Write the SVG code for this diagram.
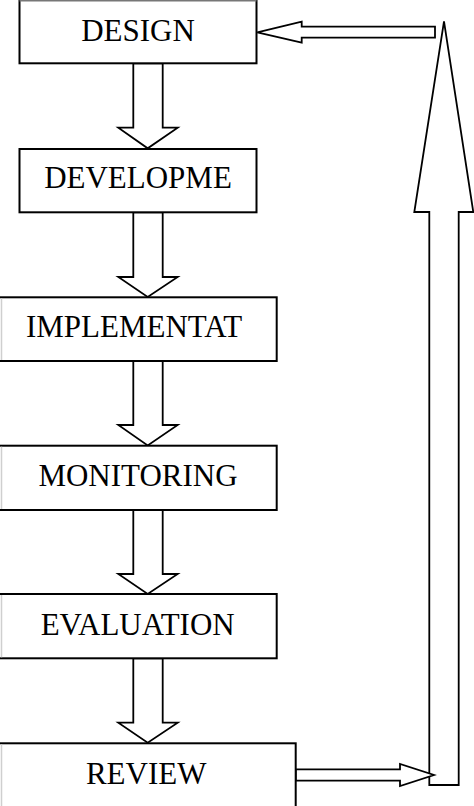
<svg xmlns="http://www.w3.org/2000/svg" width="474" height="806" viewBox="0 0 474 806">
<style>
.box{fill:#fff;stroke:#000;stroke-width:2}
.lbl{font-family:"Liberation Serif","Times New Roman",serif;font-size:31px;fill:#000;text-anchor:middle}
.arr{fill:#fff;stroke:#000;stroke-width:1.8;stroke-linejoin:miter}
.edge{stroke:#cfcfcf;stroke-width:1.5}
</style>
<rect width="474" height="806" fill="#fff"/>
<g id="connectors">
<polygon class="arr" points="133.3,63.3 133.3,127.7 118.3,127.7 147.7,148.3 177.7,127.7 162.7,127.7 162.7,63.3"/>
<polygon class="arr" points="133.3,212.3 133.3,277 118.3,277 147.7,297 177.7,277 162.7,277 162.7,212.3"/>
<polygon class="arr" points="133.3,361 133.3,425 118.3,425 147.7,445.5 177.7,425 162.7,425 162.7,361"/>
<polygon class="arr" points="133.3,510 133.3,574 118.3,574 147.7,594 177.7,574 162.7,574 162.7,510"/>
<polygon class="arr" points="133.3,658.3 133.3,722.7 118.3,722.7 147.7,742.7 177.7,722.7 162.7,722.7 162.7,658.3"/>
<polygon class="arr" points="429.3,785 429.3,212 414.3,212 444,21.3 473.3,212 458.7,212 458.7,785"/>
<polygon class="arr" points="435,26.7 301.7,26.7 301.7,21.7 257.3,32.3 301.7,42.7 301.7,37.7 435,37.7"/>
<polygon class="arr" points="295.7,769.3 400,769.3 400,764 434,775 400,786 400,780.7 295.7,780.7"/>
</g>
<g id="design">
<rect class="box" x="19.5" y="-2" width="237" height="65.3"/>
<line x1="19.5" y1="0.8" x2="256.5" y2="0.8" stroke="#777" stroke-width="1.6"/>
<text class="lbl" x="138" y="41">DESIGN</text>
</g>
<g id="development">
<rect class="box" x="19.5" y="149" width="237" height="63.3"/>
<text class="lbl" x="138" y="187.7">DEVELOPME</text>
</g>
<g id="implementation">
<rect class="box" x="-2" y="297.3" width="278.7" height="63.7"/>
<line class="edge" x1="1.5" y1="298.3" x2="1.5" y2="360"/>
<text class="lbl" x="134" y="336.7">IMPLEMENTAT</text>
</g>
<g id="monitoring">
<rect class="box" x="-2" y="445.7" width="278.7" height="64.3"/>
<line class="edge" x1="1.5" y1="446.7" x2="1.5" y2="509"/>
<text class="lbl" x="138" y="485.7">MONITORING</text>
</g>
<g id="evaluation">
<rect class="box" x="-2" y="594" width="278.7" height="64.3"/>
<line class="edge" x1="1.5" y1="595" x2="1.5" y2="657.3"/>
<text class="lbl" x="137.7" y="635">EVALUATION</text>
</g>
<g id="review">
<rect class="box" x="-2" y="743.3" width="297.7" height="70"/>
<line class="edge" x1="1.5" y1="744.3" x2="1.5" y2="806"/>
<text class="lbl" x="146.2" y="784">REVIEW</text>
</g>
</svg>
